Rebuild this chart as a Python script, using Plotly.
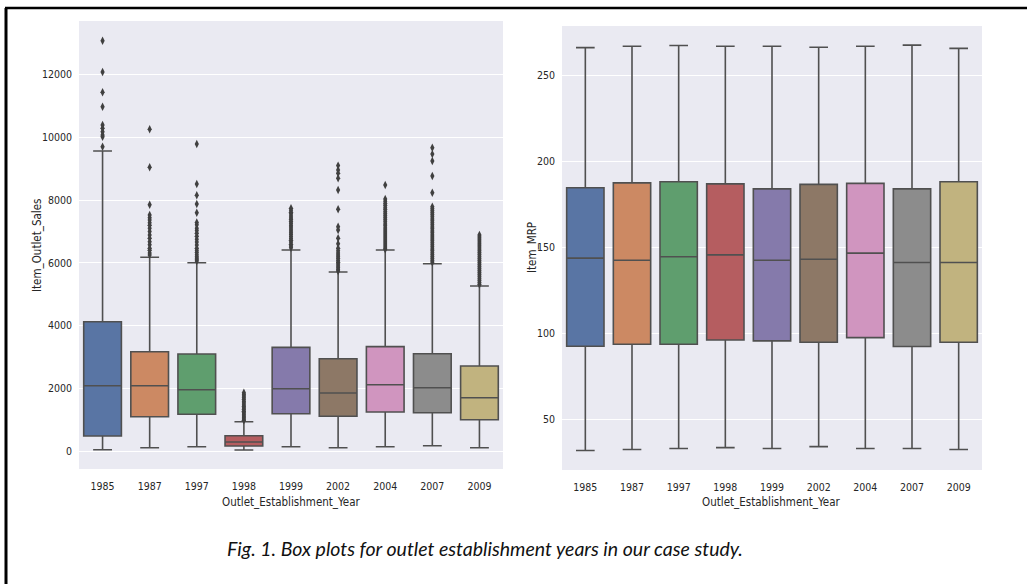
import plotly.graph_objects as go

# Outlet establishment years (categories shared by both panels)
years = ["1985", "1987", "1997", "1998", "1999", "2002", "2004", "2007", "2009"]

# seaborn "deep" palette, desaturated as in seaborn boxplots
box_colors = ["#5975a4", "#cc8963", "#5f9e6e", "#b55d60", "#857aab",
              "#8d7866", "#d095bf", "#8c8c8c", "#c1b37f"]

# Item_Outlet_Sales box statistics per year
sales_lower = [42, 105, 137, 32, 137, 105, 137, 169, 105]
sales_q1 = [478, 1094, 1171, 160, 1190, 1107, 1244, 1222, 998]
sales_median = [2083, 2083, 1955, 287, 1987, 1850, 2115, 2019, 1700]
sales_q3 = [4124, 3168, 3094, 488, 3307, 2944, 3328, 3104, 2711]
sales_upper = [9569, 6178, 6006, 935, 6411, 5710, 6411, 5975, 5263]

# Item_Outlet_Sales outliers per year
sales_outliers = {
    "1985": [13087, 12089, 11442, 10983, 10399, 10293, 10185, 10080, 10026, 9707],
    "1987": [10261, 9049, 7857, 7528, 7441, 7368, 7277, 7202, 7102, 6998, 6890,
             6785, 6677, 6581, 6465, 6402, 6318, 6255],
    "1997": [9793, 8517, 8156, 7879, 7601, 7287, 7214, 7102, 7031, 6947, 6852,
             6752, 6668, 6570, 6465, 6398, 6331, 6262, 6197, 6151, 6103, 6058],
    "1998": [1860, 1806, 1752, 1697, 1644, 1583, 1528, 1471, 1418, 1374, 1322,
             1268, 1221, 1169, 1118, 1074, 1023, 981],
    "1999": [7742, 7683, 7618, 7566, 7497, 7436, 7384, 7321, 7262, 7197, 7143,
             7078, 7021, 6958, 6902, 6839, 6781, 6722, 6663, 6597, 6541, 6482],
    "2002": [9103, 8966, 8860, 8700, 8326, 7710, 7155, 7049, 6784, 6612, 6465,
             6388, 6317, 6255, 6196, 6138, 6079, 6021, 5963, 5902, 5846, 5787, 5741],
    "2004": [8485, 8038, 7964, 7897, 7831, 7762, 7701, 7633, 7568, 7502, 7441,
             7377, 7309, 7244, 7182, 7117, 7053, 6988, 6921, 6858, 6795, 6730,
             6668, 6603, 6539, 6477, 6433],
    "2007": [9675, 9470, 9250, 8772, 8240, 7793, 7728, 7662, 7601, 7537, 7469,
             7404, 7341, 7278, 7214, 7148, 7086, 7021, 6958, 6893, 6829, 6766,
             6703, 6640, 6575, 6512, 6447, 6386, 6321, 6258, 6196, 6133, 6071, 6018],
    "2009": [6890, 6828, 6763, 6701, 6637, 6572, 6511, 6446, 6385, 6322, 6258,
             6193, 6131, 6068, 6004, 5941, 5877, 5814, 5752, 5688, 5623, 5561,
             5497, 5436, 5372, 5311],
}

# Item_MRP box statistics per year (no outliers)
mrp_lower = [31.8, 32.4, 33.0, 33.5, 33.0, 34.1, 33.0, 33.0, 32.4]
mrp_q1 = [92.5, 93.6, 93.6, 96.1, 95.6, 94.8, 97.5, 92.3, 94.8]
mrp_median = [143.7, 142.5, 144.5, 145.6, 142.5, 143.1, 146.6, 141.2, 141.2]
mrp_q3 = [184.6, 187.5, 188.1, 186.9, 184.0, 186.6, 187.2, 184.0, 188.1]
mrp_upper = [266.1, 266.9, 267.4, 266.9, 266.9, 266.3, 266.9, 267.6, 265.7]

sales_ticks = [0, 2000, 4000, 6000, 8000, 10000, 12000]
mrp_ticks = [50, 100, 150, 200, 250]

W, H = 1027, 584
EDGE = "#505050"
FONT = "DejaVu Sans Condensed, Liberation Sans Narrow, Liberation Sans, sans-serif"
TEXT = "#262626"

fig = go.Figure()


def add_boxes(lower, q1, med, q3, upper, xa, ya):
    for i, yr in enumerate(years):
        fig.add_trace(go.Box(
            x=[yr], q1=[q1[i]], median=[med[i]], q3=[q3[i]],
            lowerfence=[lower[i]], upperfence=[upper[i]],
            fillcolor=box_colors[i], line=dict(color=EDGE, width=1.6),
            boxpoints=False, width=0.8, whiskerwidth=0.5,
            xaxis=xa, yaxis=ya, showlegend=False, hoverinfo="skip",
        ))


add_boxes(sales_lower, sales_q1, sales_median, sales_q3, sales_upper, "x", "y")
add_boxes(mrp_lower, mrp_q1, mrp_median, mrp_q3, mrp_upper, "x2", "y2")

for yr in years:
    pts = sales_outliers[yr]
    fig.add_trace(go.Scatter(
        x=[yr] * len(pts), y=pts, mode="markers",
        marker=dict(symbol="diamond-tall", size=6, color="#404040",
                    line=dict(width=0)),
        xaxis="x", yaxis="y", showlegend=False, hoverinfo="skip",
    ))

common_x = dict(type="category", categoryorder="array", categoryarray=years,
                range=[-0.5, 8.5], showgrid=False, zeroline=False, showline=False,
                ticks="", tickfont=dict(family=FONT, size=10.5, color=TEXT),
                ticklabelstandoff=9)
common_y = dict(showgrid=True, gridcolor="white", gridwidth=1, zeroline=False,
                showline=False, ticks="", tickformat="d",
                tickfont=dict(family=FONT, size=10.5, color=TEXT),
                ticklabelstandoff=6)

fig.update_layout(
    width=W, height=H,
    margin=dict(l=0, r=0, t=0, b=0),
    paper_bgcolor="white",
    plot_bgcolor="#EAEAF2",
    boxmode="overlay",
    xaxis=dict(domain=[79 / W, 503 / W], anchor="y", **common_x),
    yaxis=dict(domain=[1 - 469 / H, 1 - 21 / H], anchor="x",
               range=[-574, 13716], tickvals=sales_ticks, **common_y),
    xaxis2=dict(domain=[562 / W, 982 / W], anchor="y2", **common_x),
    yaxis2=dict(domain=[1 - 470 / H, 1 - 26 / H], anchor="x2",
                range=[20.5, 278.7], tickvals=mrp_ticks, **common_y),
)

title_font = dict(family=FONT, size=11.5, color=TEXT)


def label(text, px, py, angle=0):
    fig.add_annotation(text=text, x=px / W, y=1 - py / H, xref="paper", yref="paper",
                       xanchor="center", yanchor="middle", textangle=angle,
                       showarrow=False, font=title_font)


label("Item_Outlet_Sales", 37, 245, -90)
label("Item_MRP", 532, 248, -90)
label("Outlet_Establishment_Year", 291, 502)
label("Outlet_Establishment_Year", 771, 502)

fig.add_annotation(
    text="<i>Fig. 1. Box plots for outlet establishment years in our case study.</i>",
    x=485 / W, y=1 - 548 / H, xref="paper", yref="paper", showarrow=False,
    xanchor="center", yanchor="middle",
    font=dict(family="Lato, Open Sans, sans-serif", size=19.5, color="#111111"))

# figure frame (top and left edges)
fig.add_shape(type="line", xref="paper", yref="paper",
              x0=5 / W, x1=1, y0=1 - 8 / H, y1=1 - 8 / H,
              line=dict(color="black", width=2.5))
fig.add_shape(type="line", xref="paper", yref="paper",
              x0=6 / W, x1=6 / W, y0=0, y1=1 - 8 / H,
              line=dict(color="black", width=3))

fig.write_html("out.html")
